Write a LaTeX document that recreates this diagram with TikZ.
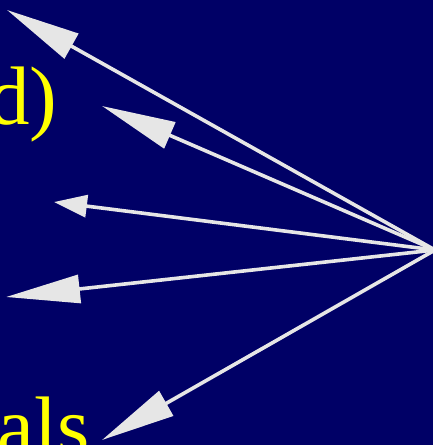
\documentclass[tikz,border=0pt]{standalone}
\usepackage{fontspec}
\setmainfont{Liberation Serif}
\usetikzlibrary{arrows.meta}
\definecolor{navybg}{RGB}{0,0,102}
\definecolor{arrowgray}{RGB}{230,230,230}
\definecolor{slideyellow}{RGB}{255,255,0}
\tikzset{
  bigarrow/.style={draw=arrowgray, line width=3.6pt, -{Triangle[length=74pt,width=28pt,fill=arrowgray]}},
  smallarrow/.style={draw=arrowgray, line width=3.6pt, -{Triangle[length=33pt,width=22pt,fill=arrowgray]}},
  slidetext/.style={text=slideyellow, font=\fontsize{83}{100}\selectfont, inner sep=0pt, anchor=base west}
}
\begin{document}
\begin{tikzpicture}[x=1pt,y=-1pt]
\useasboundingbox (0,0) rectangle (433,445);
\fill[navybg] (0,0) rectangle (433,445);
\clip (0,0) rectangle (433,445);
\node[slidetext] (t1) at (-12,124) {d)};
\node[slidetext] (t2) at (-3,454) {als};
\coordinate (s) at (435,250);
\coordinate (a1) at (7,10);
\coordinate (a2) at (102,106);
\coordinate (a3) at (54,202);
\coordinate (a4) at (6,297);
\coordinate (a5) at (102,440);
\draw[bigarrow] (s) -- (a1);
\draw[bigarrow] (s) -- (a2);
\draw[smallarrow] (s) -- (a3);
\draw[bigarrow] (s) -- (a4);
\draw[bigarrow] (s) -- (a5);
\end{tikzpicture}
\end{document}
